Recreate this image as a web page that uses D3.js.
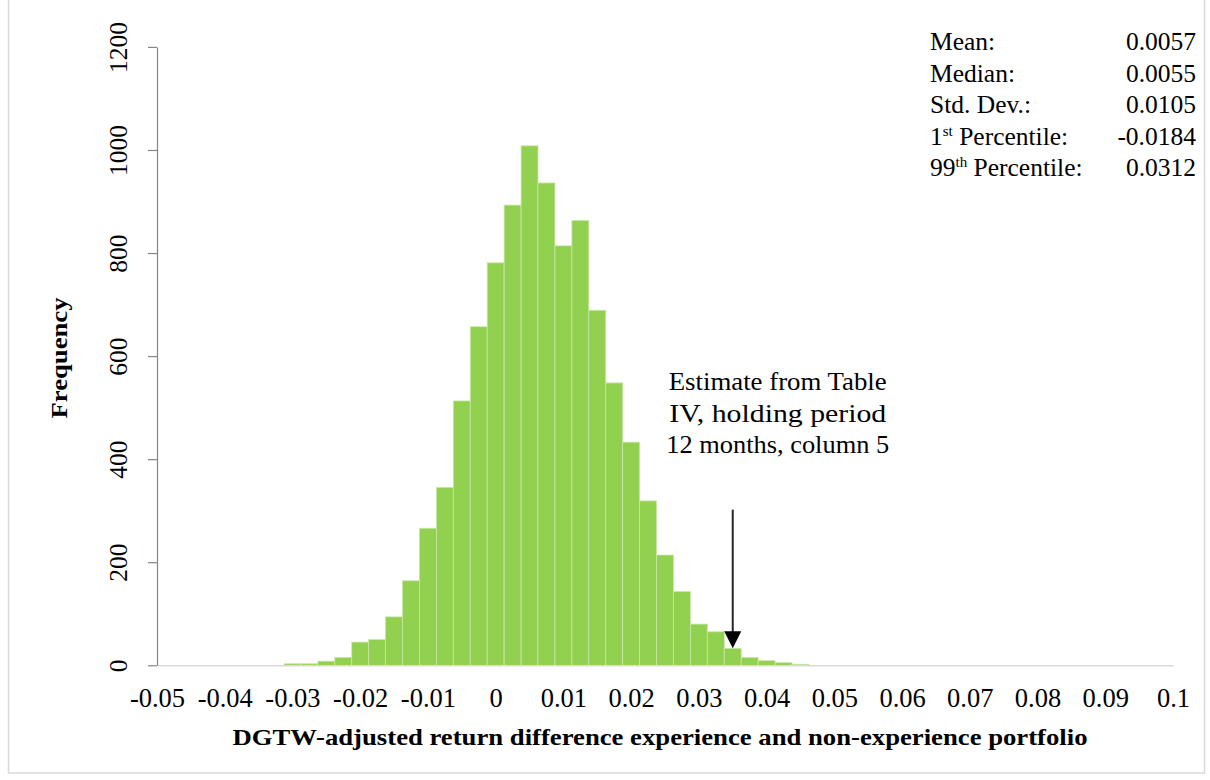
<!DOCTYPE html>
<html>
<head>
<meta charset="utf-8">
<script src="https://cdn.jsdelivr.net/npm/d3@7"></script>
<style>
  body { margin: 0; background: #fff; }
  svg { display: block; font-family: "Liberation Serif", "Times New Roman", serif; }
  .xaxis path { stroke: #d9d9d9; stroke-width: 1.5; }
  .yaxis path, .yaxis line { stroke: #868686; stroke-width: 1.2; }
  .tick text { font-family: "Liberation Serif", "Times New Roman", serif; fill: #000; }
  .xaxis .tick text { font-size: 26.5px; }
  .yaxis .tick text { font-size: 25.5px; }
</style>
</head>
<body>
<div id="vis"></div>
<script>
const width = 1210;
const height = 780;

// Bin centres (return difference) and their frequencies
const binCenters = [-0.03, -0.0275, -0.025, -0.0225, -0.02, -0.0175, -0.015, -0.0125,
  -0.01, -0.0075, -0.005, -0.0025, 0, 0.0025, 0.005, 0.0075, 0.01, 0.0125, 0.015,
  0.0175, 0.02, 0.0225, 0.025, 0.0275, 0.03, 0.0325, 0.035, 0.0375, 0.04, 0.0425, 0.045];
const counts = [3, 3, 8, 15, 45, 50, 94, 164,
  266, 345, 513, 657, 781, 893, 1008, 936, 814, 863, 689,
  548, 433, 319, 214, 143, 80, 65, 33, 15, 9, 5, 2];
const binWidth = 0.0025;

const xTicks = [-0.05, -0.04, -0.03, -0.02, -0.01, 0, 0.01, 0.02, 0.03, 0.04, 0.05, 0.06, 0.07, 0.08, 0.09, 0.1];
const yTicks = [0, 200, 400, 600, 800, 1000, 1200];

const statLabels = [["Mean:"], ["Median:"], ["Std. Dev.:"], ["1", "st", " Percentile:"], ["99", "th", " Percentile:"]];
const statValues = ["0.0057", "0.0055", "0.0105", "-0.0184", "0.0312"];

const arrowValue = 0.035;
const arrowFrom = 302;
const arrowTo = 33;
const noteLines = ["Estimate from Table", "IV, holding period", "12 months, column 5"];
const noteWidths = [218, 217, 223];

const svg = d3.select("#vis").append("svg")
  .attr("width", width)
  .attr("height", height);

// chart border
svg.append("rect")
  .attr("x", 8.5).attr("y", -1)
  .attr("width", 1196).attr("height", 774)
  .attr("fill", "none")
  .attr("stroke", "#d9d9d9")
  .attr("stroke-width", 1.5);

const x = d3.scaleLinear().domain([-0.05, 0.1]).range([157, 1173]);
const y = d3.scaleLinear().domain([0, 1200]).range([665.3, 46.9]);

// bars
svg.append("g").selectAll("rect")
  .data(binCenters)
  .enter().append("rect")
  .attr("x", d => x(d - binWidth / 2))
  .attr("width", d => x(d + binWidth / 2) - x(d - binWidth / 2))
  .attr("y", (d, i) => y(counts[i]))
  .attr("height", (d, i) => y(0) - y(counts[i]))
  .attr("fill", "#92d050")
  .attr("stroke", "#c9e7a6")
  .attr("stroke-width", 0.8);

// x axis
const fmtX = d => {
  const v = +d.toFixed(2);
  return v < 0 ? "-" + Math.abs(v) : String(v);
};
const xAxis = svg.append("g")
  .attr("class", "xaxis")
  .attr("transform", `translate(0, ${y(0)})`)
  .call(d3.axisBottom(x).tickValues(xTicks).tickSize(0).tickPadding(0).tickFormat(fmtX));
xAxis.attr("font-family", null).attr("font-size", null);
xAxis.selectAll("text").attr("dy", null).attr("y", 41.5);

// y axis
const yAxis = svg.append("g")
  .attr("class", "yaxis")
  .attr("transform", `translate(157, 0)`)
  .call(d3.axisLeft(y).tickValues(yTicks).tickSize(9).tickSizeOuter(0).tickFormat(d3.format("d")));
yAxis.attr("font-family", null).attr("font-size", null);
yAxis.selectAll("text")
  .attr("transform", "rotate(-90)")
  .attr("text-anchor", "middle")
  .attr("x", 0)
  .attr("y", -39)
  .attr("dy", "0.35em");

// axis titles
svg.append("text")
  .attr("x", 660).attr("y", 745)
  .attr("text-anchor", "middle")
  .attr("font-size", 24).attr("font-weight", "bold")
  .attr("textLength", 855).attr("lengthAdjust", "spacingAndGlyphs")
  .text("DGTW-adjusted return difference experience and non-experience portfolio");

svg.append("text")
  .attr("transform", "translate(67, 358) rotate(-90)")
  .attr("text-anchor", "middle")
  .attr("font-size", 24).attr("font-weight", "bold")
  .attr("textLength", 121).attr("lengthAdjust", "spacingAndGlyphs")
  .text("Frequency");

// summary statistics
const stats = svg.append("g").attr("font-size", 25.5);
statLabels.forEach((parts, i) => {
  const t = stats.append("text").attr("x", 930).attr("y", 50 + i * 31.6);
  parts.forEach((p, j) => {
    const sup = parts.length > 1 && j === 1;
    t.append("tspan")
      .attr("font-size", sup ? 15 : 25.5)
      .attr("dy", sup ? -9 : (j === 2 ? 9 : 0))
      .text(p);
  });
  stats.append("text")
    .attr("x", 1196).attr("y", 50 + i * 31.6)
    .attr("text-anchor", "end")
    .text(statValues[i]);
});

// annotation arrow
const ax = x(arrowValue);
svg.append("line")
  .attr("x1", ax).attr("x2", ax)
  .attr("y1", y(arrowFrom)).attr("y2", y(arrowTo) - 14)
  .attr("stroke", "#262626").attr("stroke-width", 2);
svg.append("path")
  .attr("d", `M${ax - 8.5},${y(arrowTo) - 17} L${ax + 8.5},${y(arrowTo) - 17} L${ax},${y(arrowTo)} Z`)
  .attr("fill", "#000");

svg.append("g").selectAll("text")
  .data(noteLines)
  .enter().append("text")
  .attr("x", ax + 45)
  .attr("y", (d, i) => 390 + i * 31.7)
  .attr("text-anchor", "middle")
  .attr("font-size", 25.5)
  .attr("textLength", (d, i) => noteWidths[i])
  .attr("lengthAdjust", "spacingAndGlyphs")
  .text(d => d);
</script>
</body>
</html>
